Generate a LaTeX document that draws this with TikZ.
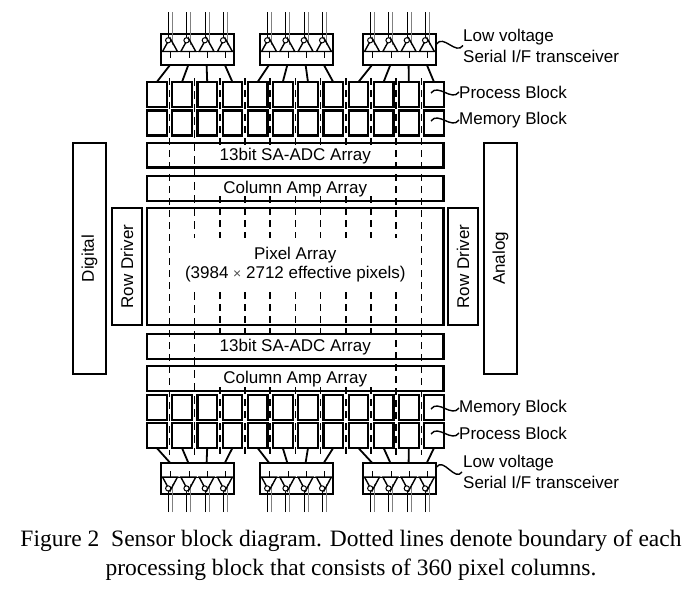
\documentclass[tikz,border=0pt]{standalone}
\usepackage{fontspec}
\setmainfont{Liberation Serif}
\setsansfont{Liberation Sans}
\usetikzlibrary{calc}
\newcommand\lblfont{\sffamily\fontsize{17}{21}\selectfont}
\newcommand\capfont{\rmfamily\fontsize{23.5}{29}\selectfont}
\begin{document}
\begin{tikzpicture}[x=1pt,y=-1pt,
  box/.style={draw, line width=2.2pt, inner sep=0pt, outer sep=0pt, anchor=north west},
  blk/.style={box, minimum width=19.6pt, minimum height=25pt},
  wide/.style={box, minimum width=296.5pt, font=\lblfont},
  lbl/.style={font=\lblfont, inner sep=0pt},
  conn/.style={line width=1.8pt},
  bnd/.style={line width=1.5pt, dash pattern=on 7pt off 5pt},
  bndthin/.style={line width=0.7pt, dash pattern=on 8pt off 5pt},
  tld/.style={line width=1.4pt},
  tri/.style={line width=1.4pt, line join=miter},
  pin/.style={line width=1pt},
  pingray/.style={line width=1pt, gray},
]
\useasboundingbox (0,0) rectangle (695,589);

% boundary lines
\foreach \k in {0,10} {
  \draw[bnd] ({169.4+25.2*\k},78) -- ({169.4+25.2*\k},455);
}
\draw[bndthin] (194.6,78) -- (194.6,238);
\draw[bndthin] (194.6,292) -- (194.6,455);
\draw[bnd] (396.2,78) -- (396.2,238);
\draw[bnd] (396.2,292) -- (396.2,455);
\foreach \k in {2,...,8} {
  \draw[bnd] ({169.4+25.2*\k},78) -- ({169.4+25.2*\k},147);
  \draw[bnd] ({169.4+25.2*\k},196) -- ({169.4+25.2*\k},238);
  \draw[bnd] ({169.4+25.2*\k},292) -- ({169.4+25.2*\k},338);
  \draw[bnd] ({169.4+25.2*\k},387) -- ({169.4+25.2*\k},455);
}

% block rows
\foreach \i in {0,...,11} {
  \node[blk] (pt\i) at ({147+25.2*\i},82) {};
  \node[blk] (mt\i) at ({147+25.2*\i},110.5) {};
  \node[blk] (mb\i) at ({147+25.2*\i},395) {};
  \node[blk] (pb\i) at ({147+25.2*\i},423) {};
}

% wide arrays
\node[wide, minimum height=24.5pt] (adct) at (147,143) {};
\node[lbl] at ($(adct.center)+(0,1)$) {13bit SA-ADC Array};
\node[wide, minimum height=25pt] (camt) at (147,176) {};
\node[lbl] at ($(camt.center)+(0,0.5)$) {Column Amp Array};
\node[wide, minimum height=117pt] (pix) at (147,208) {};
\node[lbl, align=center, font=\sffamily\fontsize{17}{19}\selectfont] at ($(pix.center)+(0,-2)$) {Pixel Array\\(3984 {\fontsize{14}{19}\selectfont\textcolor{black!70}{×}} 2712 effective pixels)};
\node[wide, minimum height=25pt] (adcb) at (147,334) {};
\node[lbl] at ($(adcb.center)+(0,1)$) {13bit SA-ADC Array};
\node[wide, minimum height=25pt] (camb) at (147,366) {};
\node[lbl] at ($(camb.center)+(0,0.5)$) {Column Amp Array};

% side boxes
\node[box, minimum width=33pt, minimum height=231pt] (dig) at (73,143) {};
\node[lbl, rotate=90] at (dig.center) {Digital};
\node[box, minimum width=30pt, minimum height=117pt] (rdl) at (112,208) {};
\node[lbl, rotate=90] at (rdl.center) {Row Driver};
\node[box, minimum width=30pt, minimum height=117pt] (rdr) at (448,208) {};
\node[lbl, rotate=90] at (rdr.center) {Row Driver};
\node[box, minimum width=33pt, minimum height=231pt] (ana) at (484,143) {};
\node[lbl, rotate=90] at (ana.center) {Analog};

% transceivers
\foreach \b/\x in {0/161,1/260,2/363} {
  % top
  \node[box, minimum width=73pt, minimum height=31pt] (tt\b) at (\x,34) {};
  \draw[line width=0.9pt] (\x,51.5) -- ({\x+73},51.5);
  % bottom
  \node[box, minimum width=73pt, minimum height=31pt] (tb\b) at (\x,462.7) {};
  \draw[line width=0.9pt] (\x,477) -- ({\x+73},477);
  \foreach \k in {0,...,3} {
    \pgfmathsetmacro\c{\x+9+18.3*\k}
    \pgfmathtruncatemacro\n{4*\b+\k}
    % top unit
    \draw[pingray] ({\c+2.5},12) -- ({\c+2.5},45);
    \draw[pin] ({\c-1.5},12) -- ({\c-1.5},38.5);
    \draw[tri] (\c,38) -- ({\c-7.5},51.5) -- ({\c+7.5},51.5) -- cycle;
    \draw[pin, fill=white] ({\c-1.8},40.3) circle (2.6pt);
    \draw[pin] ({\c+0.8},51.5) -- ({\c+0.8},57.5);
    \coordinate (tu\b\k) at (\c,65);
    \draw[conn] (tu\b\k) -- (pt\n.north);
    % bottom unit
    \draw[pingray] ({\c+2.5},512) -- ({\c+2.5},484);
    \draw[pin] ({\c-1.5},512) -- ({\c-1.5},490.5);
    \draw[tri] (\c,491) -- ({\c-7.5},477) -- ({\c+7.5},477) -- cycle;
    \draw[pin, fill=white] ({\c-1.8},488.4) circle (2.6pt);
    \draw[pin] ({\c+0.8},477) -- ({\c+0.8},470.5);
    \coordinate (bu\b\k) at (\c,462.7);
    \draw[conn] (pb\n.south) -- (bu\b\k);
  }
}

% labels with tildes
\node[lbl, anchor=west, align=left] (lvt) at (463,45.5) {Low voltage\\Serial I/F transceiver};
\coordinate (lvt0) at (436.5,44);
\draw[tld] (lvt0) .. controls +(7,-10) and +(-7,10) .. (lvt.west);
\node[lbl, anchor=west] (prt) at (459,92) {Process Block};
\coordinate (prt0) at (431,93);
\draw[tld] (prt0) .. controls +(7,-10) and +(-7,10) .. (prt.west);
\node[lbl, anchor=west] (mmt) at (459,120) {Memory Block};
\coordinate (mmt0) at (431,121);
\draw[tld] (mmt0) .. controls +(7,-10) and +(-7,10) .. (mmt.west);

\node[lbl, anchor=west] (mmb) at (459,408) {Memory Block};
\coordinate (mmb0) at (431,409);
\draw[tld] (mmb0) .. controls +(7,-10) and +(-7,10) .. (mmb.west);
\node[lbl, anchor=west] (prb) at (459,433) {Process Block};
\coordinate (prb0) at (431,434);
\draw[tld] (prb0) .. controls +(7,-10) and +(-7,10) .. (prb.west);
\node[lbl, anchor=west, align=left] (lvb) at (463,472) {Low voltage\\Serial I/F transceiver};
\coordinate (lvb0) at (436.5,467);
\draw[tld] (lvb0) .. controls +(7,-10) and +(-7,10) .. ($(lvb.west)+(-1,0)$);

% caption
\node[font=\capfont, align=center, inner sep=0pt] (cap) at (351,555) {Figure 2\ \ Sensor block diagram. Dotted lines denote boundary of each\\processing block that consists of 360 pixel columns.};
\end{tikzpicture}
\end{document}
